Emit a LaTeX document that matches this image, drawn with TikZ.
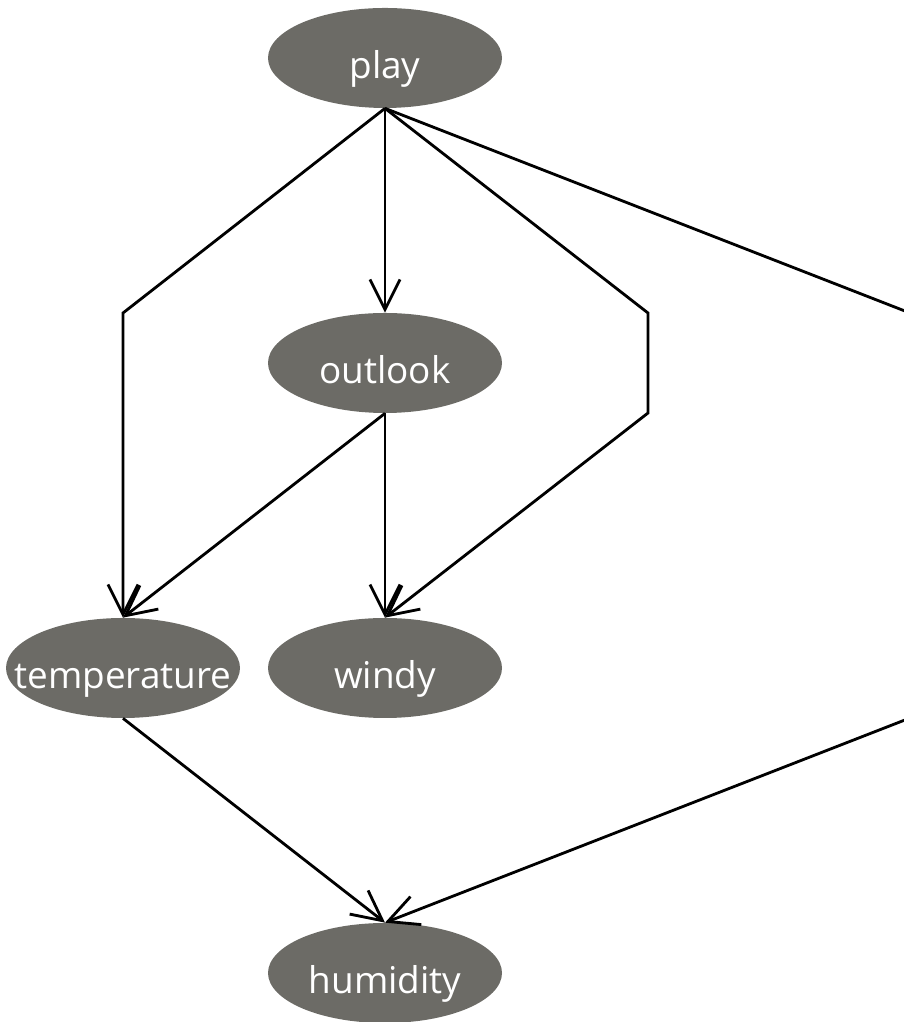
\documentclass[tikz,border=0pt]{standalone}
\usepackage{fontspec}
\setmainfont{Open Sans}
\usepackage{tikz}
\usetikzlibrary{arrows.meta,shapes.geometric}

\begin{document}
\begin{tikzpicture}
        \definecolor{nodegray}{RGB}{108,107,102}
        \tikzset{
            var/.style={ellipse, fill=nodegray, text=white, inner ysep=0pt, inner xsep=-2cm,
                minimum width=4.68cm, minimum height=2.00cm,
                text height=22.8pt, text depth=0pt,
                font=\fontsize{21}{25}\selectfont},
            link/.style={line width=1.6pt, -{Straight Barb[length=0.6cm, width=0.6cm, line width=1.6pt]}}
        }
        \useasboundingbox (0,0) rectangle (18.06,20.44);

        % Nodes
        \node[var] (play) at (7.70, 19.28) {play};
        \node[var] (outlook) at (7.70, 13.18) {outlook};
        \node[var] (temperature) at (2.46, 7.08) {temperature};
        \node[var] (windy) at (7.70, 7.08) {windy};
        \node[var] (humidity) at (7.70, 0.98) {humidity};

        % Coordinates
        \coordinate (A) at (2.46, 14.18);
        \coordinate (B) at (12.96, 14.18);
        \coordinate (C) at (12.96, 12.18);
        \coordinate (D) at (18.20, 14.18);
        \coordinate (E) at (18.20, 6.08);

        % Drawing
        \draw[link] (play.south) -- (outlook.north);
        \draw[link] (play.south) -- (A) -- (temperature.north);
        \draw[link] (play.south) -- (B) -- (C) -- (windy.north);
        \draw[link] (play.south) -- (D) -- (E) -- (humidity.north);
        \draw[link] (outlook.south) -- (temperature.north);
        \draw[link] (outlook.south) -- (windy.north);
        \draw[link] (temperature.south) -- (humidity.north);
    \end{tikzpicture}
\end{document}
